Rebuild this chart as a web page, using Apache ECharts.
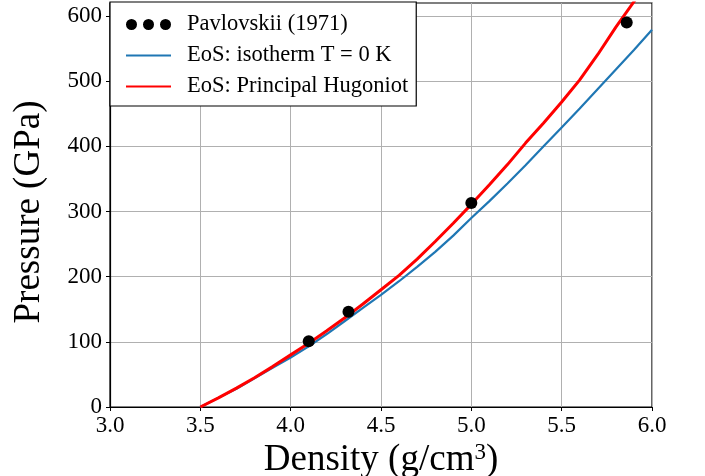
<!DOCTYPE html>
<html>
<head>
<meta charset="utf-8">
<script src="https://cdn.jsdelivr.net/npm/echarts@6/dist/echarts.min.js"></script>
<style>
html,body{margin:0;padding:0;background:#fff;}
#chart{width:705px;height:476px;}
</style>
</head>
<body>
<div id="chart"></div>
<script>
// ---- data ----
const density = [3.5,3.6,3.7,3.8,3.9,4.0,4.1,4.2,4.3,4.4,4.5,4.6,4.7,4.8,4.9,5.0,5.1,5.2,5.3,5.4,5.5,5.6,5.7,5.8,5.9,6.0];
const isothermP = [0,14,28,44,60,76,93,112,132,152,172,193,215,238,263,290,316,343,371,400,429,458,488,518,548,579];
const hugoniotP = [0,14,29,45,62,80,98,117,137,158,180,202,227,254,282,311,341,372,405,436,468,502,541,583,622,662];
const pavDensity = [4.10,4.32,5.00,5.86];
const pavPressure = [101,146,313,590];
const xTicks = [3.0,3.5,4.0,4.5,5.0,5.5,6.0];
const yTicks = [0,100,200,300,400,500,600];
const seriesNames = ['Pavlovskii (1971)','EoS: isotherm T = 0 K','EoS: Principal Hugoniot'];

const FONT = 'Liberation Serif';
const zip = (xs, ys) => xs.map((x, i) => [x, ys[i]]);
const DOTS_ICON = 'path://M0,5.5a5.5,5.5 0 1,0 11,0a5.5,5.5 0 1,0 -11,0 M17,5.5a5.5,5.5 0 1,0 11,0a5.5,5.5 0 1,0 -11,0 M34,5.5a5.5,5.5 0 1,0 11,0a5.5,5.5 0 1,0 -11,0';
const LINE_ICON = 'path://M0,0L0,0M45,11L45,11M0,4.4L45,4.4L45,6.6L0,6.6Z';

const chart = echarts.init(document.getElementById('chart'), null, {renderer:'canvas'});
chart.setOption({
  animation: false,
  backgroundColor: '#fff',
  grid: {left:110, right:53, top:3, bottom:69, outerBoundsMode:'none', containLabel:false,
    show:true, borderColor:'#000', borderWidth:1.2, backgroundColor:'transparent'},
  legend: {
    left: 110, top: 2, orient: 'vertical',
    padding: [11, 8, 8, 16],
    itemWidth: 45, itemHeight: 11, itemGap: 8,
    backgroundColor: '#fff', borderColor: '#000', borderWidth: 1.2, borderRadius: 0,
    textStyle: {fontFamily: FONT, fontSize: 22.5, color: '#000', lineHeight: 22, padding: [0,0,0,11]},
    data: [
      {name: seriesNames[0], icon: DOTS_ICON, itemStyle: {color: '#000', borderWidth: 0, opacity: 1}},
      {name: seriesNames[1], icon: LINE_ICON, itemStyle: {color: '#1f77b4', borderWidth: 0}},
      {name: seriesNames[2], icon: LINE_ICON, itemStyle: {color: '#ff0000', borderWidth: 0}}
    ]
  },
  xAxis: {
    type: 'value', min: 3, max: 6, interval: 0.5,
    name: 'Density (g/cm{sup|3})', nameLocation: 'middle', nameGap: 22,
    nameTextStyle: {fontFamily: FONT, fontSize: 37, color: '#000', lineHeight: 37,
      rich: {sup: {fontFamily: FONT, fontSize: 23, lineHeight: 37, verticalAlign: 'top', padding:[0,0,22,0], color:'#000'}}},
    axisLine: {lineStyle: {color: '#000', width: 1.2}},
    axisTick: {length: 4, lineStyle: {color: '#000', width: 1}},
    axisLabel: {fontFamily: FONT, fontSize: 23, color: '#000', margin: 7,
      formatter: v => xTicks.some(t => Math.abs(t - v) < 1e-9) ? v.toFixed(1) : ''},
    splitLine: {show: true, lineStyle: {color: '#b0b0b0', width: 1}}
  },
  yAxis: {
    type: 'value', min: 0, max: 620, interval: 100,
    name: 'Pressure (GPa)', nameLocation: 'middle', nameGap: 62, nameRotate: 90,
    nameTextStyle: {fontFamily: FONT, fontSize: 37, color: '#000', padding: [0, 14, 0, 0]},
    axisLine: {show: true, lineStyle: {color: '#000', width: 1.2}},
    axisTick: {show: true, length: 4, lineStyle: {color: '#000', width: 1}, customValues: yTicks},
    axisLabel: {fontFamily: FONT, fontSize: 23, color: '#000', margin: 8, customValues: yTicks,
      formatter: v => yTicks.indexOf(v) >= 0 ? String(v) : ''},
    splitLine: {show: true, lineStyle: {color: '#b0b0b0', width: 1}}
  },
  series: [
    {name: seriesNames[1], type: 'line', data: zip(density, isothermP), symbol: 'none', smooth: false,
      lineStyle: {color: '#1f77b4', width: 2.2}, itemStyle: {color: '#1f77b4'}, z: 2, clip: true},
    {name: seriesNames[2], type: 'line', data: zip(density, hugoniotP), symbol: 'none', smooth: false,
      lineStyle: {color: '#ff0000', width: 3}, itemStyle: {color: '#ff0000'}, z: 3, clip: true},
    {name: seriesNames[0], type: 'scatter', data: zip(pavDensity, pavPressure), symbol: 'circle', symbolSize: 12,
      itemStyle: {color: '#000', opacity: 1}, z: 4}
  ]
});
</script>
</body>
</html>
